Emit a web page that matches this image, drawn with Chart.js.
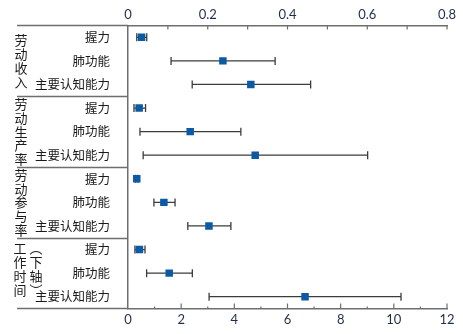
<!DOCTYPE html>
<html>
<head>
<meta charset="utf-8">
<script src="https://cdn.jsdelivr.net/npm/chart.js@4"></script>
<style>
  html, body { margin: 0; padding: 0; background: #fff; }
  #wrap { width: 463px; height: 334px; }
</style>
</head>
<body>
<div id="wrap"><canvas id="forest"></canvas></div>
<script>
const itens = ["握力", "肺功能", "主要认知能力"];
const grupos = ["劳动收入", "劳动生产率", "劳动参与率", "工作时间"];

// estimativas e intervalos (eixo superior 0-0.8)
const rendaEst = [0.034, 0.238, 0.308];
const rendaMin = [0.022, 0.108, 0.161];
const rendaMax = [0.047, 0.369, 0.458];

const prodEst = [0.028, 0.156, 0.319];
const prodMin = [0.015, 0.030, 0.038];
const prodMax = [0.044, 0.283, 0.601];

const partEst = [0.022, 0.090, 0.203];
const partMin = [0.019, 0.065, 0.150];
const partMax = [0.025, 0.118, 0.258];

// tempo de trabalho (eixo inferior 0-12)
const horasEst = [0.43, 1.55, 6.66];
const horasMin = [0.26, 0.70, 3.05];
const horasMax = [0.64, 2.42, 10.27];

const topTicks = [0, 0.2, 0.4, 0.6, 0.8];
const bottomTicks = [0, 2, 4, 6, 8, 10, 12];

const linhas = [];
grupos.forEach(() => itens.forEach(it => linhas.push(it)));

function pontos(est, lo, hi, offset) {
    return est.map((v, i) => ({ x: v, y: offset + i, lo: lo[i], hi: hi[i] }));
}

const dadosTopo = [].concat(
    pontos(rendaEst, rendaMin, rendaMax, 0),
    pontos(prodEst, prodMin, prodMax, 3),
    pontos(partEst, partMin, partMax, 6)
);
const dadosBase = pontos(horasEst, horasMin, horasMax, 9);

const corLinha = '#6e6e6e';
const corTexto = '#1f2d4d';

const barrasErro = {
    id: 'barrasErro',
    beforeDatasetsDraw(chart) {
        const ctx = chart.ctx;
        const y = chart.scales.y;
        ctx.save();
        ctx.strokeStyle = '#3c3c3c';
        ctx.lineWidth = 1.3;
        chart.data.datasets.forEach(ds => {
            const xs = chart.scales[ds.xAxisID];
            ds.data.forEach(p => {
                const x1 = xs.getPixelForValue(p.lo);
                const x2 = xs.getPixelForValue(p.hi);
                const py = y.getPixelForValue(p.y);
                ctx.beginPath();
                ctx.moveTo(x1, py); ctx.lineTo(x2, py);
                ctx.moveTo(x1, py - 4); ctx.lineTo(x1, py + 4);
                ctx.moveTo(x2, py - 4); ctx.lineTo(x2, py + 4);
                ctx.stroke();
            });
        });
        ctx.restore();
    }
};

const moldura = {
    id: 'moldura',
    afterDraw(chart) {
        const ctx = chart.ctx;
        const a = chart.chartArea;
        const y = chart.scales.y;
        const xt = chart.scales.x;
        const xb = chart.scales.x2;
        const esq = 17;
        ctx.save();
        ctx.strokeStyle = corLinha;
        ctx.lineWidth = 1.5;
        ctx.beginPath();
        ctx.moveTo(esq, a.top); ctx.lineTo(a.left, a.top);
        ctx.moveTo(esq, a.bottom); ctx.lineTo(a.left, a.bottom);
        [2.5, 5.5, 8.5].forEach(v => {
            const py = Math.round(y.getPixelForValue(v)) + 0.5;
            ctx.moveTo(esq, py); ctx.lineTo(a.left, py);
        });
        ctx.stroke();

        // marcas internas
        ctx.lineWidth = 1.2;
        ctx.beginPath();
        for (let v = 0.1; v <= 0.8001; v += 0.1) {
            const px = xt.getPixelForValue(v);
            ctx.moveTo(px, a.top); ctx.lineTo(px, a.top + 4);
        }
        for (let v = 1; v <= 12; v++) {
            const px = xb.getPixelForValue(v);
            ctx.moveTo(px, a.bottom); ctx.lineTo(px, a.bottom - (v % 2 === 0 ? 5 : 2));
        }
        ctx.stroke();

        // rótulos dos grupos (verticais)
        ctx.fillStyle = '#1a1a1a';
        ctx.font = '13px "Noto Sans CJK SC"';
        ctx.textAlign = 'center';
        ctx.textBaseline = 'middle';
        const passo = 13.8;
        grupos.forEach((g, gi) => {
            let centro = y.getPixelForValue(gi * 3 + 1);
            const chars = Array.from(g);
            let x0 = 21;
            if (gi === 3) {
                centro -= 4;
                const segunda = Array.from('︵下轴︶');
                const ini2 = centro - (segunda.length - 1) * passo / 2;
                segunda.forEach((c, k) => ctx.fillText(c, 36, ini2 + k * passo));
                x0 = 20;
            }
            const ini = centro - (chars.length - 1) * passo / 2;
            chars.forEach((c, k) => ctx.fillText(c, x0, ini + k * passo));
        });
        ctx.restore();
    }
};

const ctx = document.getElementById('forest').getContext('2d');
new Chart(ctx, {
    type: 'scatter',
    data: {
        datasets: [{
            data: dadosTopo,
            xAxisID: 'x',
            yAxisID: 'y',
            pointStyle: 'rect',
            pointRadius: 5.3,
            pointHoverRadius: 5.3,
            backgroundColor: '#0b5aa6',
            borderWidth: 0
        }, {
            data: dadosBase,
            xAxisID: 'x2',
            yAxisID: 'y',
            pointStyle: 'rect',
            pointRadius: 5.3,
            pointHoverRadius: 5.3,
            backgroundColor: '#0b5aa6',
            borderWidth: 0
        }]
    },
    options: {
        responsive: true,
        maintainAspectRatio: false,
        animation: false,
        layout: { padding: { right: 16, left: 0, top: 0, bottom: 0 } },
        plugins: { legend: { display: false }, tooltip: { enabled: false } },
        scales: {
            x: {
                type: 'linear',
                position: 'top',
                min: 0,
                max: 0.8,
                afterBuildTicks: s => { s.ticks = topTicks.map(v => ({ value: v })); },
                afterFit: s => { s.height = 22; },
                grid: { display: false, drawTicks: false },
                border: { color: corLinha, width: 1.5 },
                ticks: {
                    padding: 3,
                    color: corTexto,
                    font: { family: 'Lato', size: 13 },
                    callback: v => String(v)
                }
            },
            x2: {
                type: 'linear',
                position: 'bottom',
                min: 0,
                max: 12,
                afterBuildTicks: s => { s.ticks = bottomTicks.map(v => ({ value: v })); },
                afterFit: s => { s.height = 21; },
                grid: { display: false, drawTicks: false },
                border: { color: corLinha, width: 1.5 },
                ticks: {
                    padding: 4,
                    color: corTexto,
                    font: { family: 'Lato', size: 13 },
                    callback: v => String(v)
                }
            },
            y: {
                type: 'linear',
                reverse: true,
                min: -0.5,
                max: 11.5,
                afterBuildTicks: s => { s.ticks = linhas.map((_, i) => ({ value: i })); },
                afterFit: s => { s.width = 128; },
                grid: { display: false, drawTicks: false },
                border: { color: corLinha, width: 1.5 },
                ticks: {
                    padding: 18,
                    color: '#1a1a1a',
                    font: { family: 'Noto Sans CJK SC', size: 12.5 },
                    callback: v => linhas[v]
                }
            }
        }
    },
    plugins: [barrasErro, moldura]
});
</script>
</body>
</html>
